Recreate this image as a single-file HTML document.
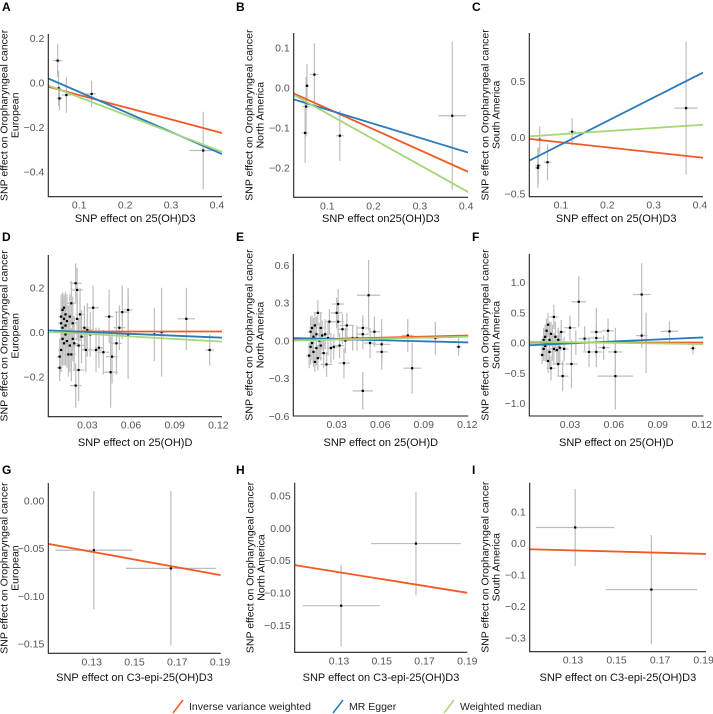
<!DOCTYPE html>
<html><head><meta charset="utf-8"><style>
html,body{margin:0;padding:0;background:#fff;}
svg{display:block;font-family:"Liberation Sans",Arial,sans-serif;}
</style></head><body>
<svg id="chart" width="713" height="714" viewBox="0 0 713 714"></svg>
<script>
// ---- data: points [x, y, xerr, yerr] ----
const ptsA=[[0.053,0.10,0.010,0.075],[0.055,-0.025,0.005,0.08],[0.057,-0.07,0.006,0.055],[0.072,-0.055,0.010,0.08],[0.127,-0.05,0.010,0.06],[0.370,-0.305,0.030,0.175]];
const ptsB=[[0.052,-0.113,0.007,0.075],[0.054,-0.047,0.008,0.075],[0.056,0.005,0.004,0.055],[0.072,0.033,0.009,0.078],[0.127,-0.12,0.008,0.063],[0.370,-0.07,0.030,0.185]];
const ptsC=[[0.050,-0.27,0.006,0.18],[0.051,-0.25,0.006,0.16],[0.054,-0.02,0.005,0.12],[0.071,-0.22,0.008,0.16],[0.124,0.05,0.008,0.12],[0.370,0.26,0.025,0.59]];
const ptsD=[[0.011,-0.16,0.002,0.06],[0.011,-0.11,0.002,0.08],[0.012,-0.08,0.002,0.1],[0.012,0.04,0.002,0.1],[0.012,0.07,0.002,0.1],[0.013,0.1,0.002,0.08],[0.013,0.02,0.002,0.12],[0.013,-0.03,0.002,0.12],[0.014,0.06,0.002,0.1],[0.014,0.11,0.002,0.06],[0.014,-0.05,0.002,0.1],[0.015,0.03,0.002,0.12],[0.015,0.08,0.002,0.1],[0.015,-0.01,0.002,0.14],[0.016,0.05,0.003,0.12],[0.016,-0.04,0.003,0.12],[0.017,0.0,0.003,0.12],[0.017,-0.1,0.003,0.1],[0.018,0.07,0.003,0.1],[0.018,-0.06,0.003,0.12],[0.019,0.13,0.003,0.1],[0.019,-0.1,0.003,0.12],[0.020,0.04,0.003,0.12],[0.020,-0.03,0.003,0.1],[0.021,-0.05,0.003,0.12],[0.022,0.22,0.004,0.09],[0.022,-0.24,0.004,0.1],[0.023,0.19,0.004,0.1],[0.023,0.06,0.003,0.1],[0.024,-0.06,0.004,0.12],[0.024,-0.17,0.004,0.14],[0.025,0.08,0.003,0.12],[0.026,-0.02,0.003,0.12],[0.028,0.02,0.003,0.1],[0.029,-0.08,0.003,0.1],[0.030,0.01,0.004,0.12],[0.032,-0.01,0.003,0.1],[0.034,0.11,0.004,0.1],[0.036,-0.08,0.004,0.1],[0.038,-0.07,0.003,0.09],[0.041,-0.09,0.004,0.1],[0.045,0.07,0.003,0.12],[0.046,-0.18,0.005,0.16],[0.047,-0.11,0.004,0.12],[0.050,-0.05,0.004,0.14],[0.052,0.02,0.004,0.1],[0.054,0.09,0.005,0.12],[0.058,0.1,0.003,0.1],[0.058,-0.01,0.008,0.2],[0.076,-0.01,0.004,0.12],[0.081,0.0,0.003,0.2],[0.098,0.06,0.006,0.14],[0.114,-0.08,0.003,0.07]];
const ptsE=[[0.011,-0.12,0.002,0.1],[0.012,0.07,0.002,0.12],[0.012,-0.05,0.002,0.14],[0.013,0.1,0.002,0.1],[0.013,-0.02,0.002,0.14],[0.014,0.03,0.002,0.15],[0.014,-0.09,0.002,0.12],[0.015,0.12,0.002,0.1],[0.015,-0.17,0.002,0.08],[0.016,0.05,0.003,0.14],[0.016,-0.06,0.003,0.14],[0.017,0.22,0.003,0.1],[0.017,-0.14,0.003,0.1],[0.018,0.0,0.003,0.14],[0.019,0.1,0.003,0.12],[0.019,-0.04,0.003,0.12],[0.020,0.04,0.003,0.12],[0.021,-0.1,0.003,0.12],[0.022,0.05,0.003,0.12],[0.023,-0.19,0.004,0.1],[0.024,0.02,0.004,0.14],[0.025,0.15,0.003,0.1],[0.026,-0.06,0.003,0.12],[0.028,-0.05,0.003,0.1],[0.030,0.22,0.004,0.12],[0.031,0.29,0.004,0.12],[0.031,0.15,0.004,0.12],[0.032,-0.04,0.003,0.1],[0.034,0.09,0.004,0.12],[0.035,-0.18,0.004,0.12],[0.036,0.0,0.004,0.1],[0.037,0.12,0.005,0.1],[0.041,0.02,0.004,0.1],[0.044,0.02,0.004,0.1],[0.048,0.1,0.004,0.1],[0.048,-0.4,0.007,0.15],[0.048,0.05,0.004,0.12],[0.052,0.36,0.008,0.28],[0.053,-0.02,0.004,0.12],[0.056,0.07,0.004,0.12],[0.061,-0.03,0.006,0.2],[0.061,-0.09,0.004,0.1],[0.079,0.04,0.004,0.13],[0.082,-0.22,0.006,0.2],[0.098,0.02,0.003,0.13],[0.114,-0.05,0.002,0.07]];
const ptsF=[[0.011,-0.2,0.002,0.15],[0.012,0.05,0.002,0.2],[0.012,-0.1,0.002,0.2],[0.013,0.1,0.002,0.2],[0.013,-0.05,0.002,0.25],[0.014,0.2,0.002,0.2],[0.014,0.0,0.002,0.3],[0.015,-0.3,0.002,0.2],[0.015,0.3,0.002,0.2],[0.016,0.05,0.003,0.3],[0.016,-0.15,0.003,0.25],[0.017,-0.42,0.003,0.2],[0.017,0.15,0.003,0.2],[0.018,0.0,0.003,0.3],[0.019,0.43,0.003,0.2],[0.019,-0.1,0.003,0.25],[0.020,0.1,0.003,0.25],[0.021,-0.12,0.003,0.25],[0.022,0.05,0.003,0.2],[0.022,-0.35,0.004,0.2],[0.023,-0.08,0.004,0.25],[0.024,0.18,0.003,0.2],[0.025,-0.55,0.004,0.25],[0.026,-0.1,0.003,0.2],[0.030,0.25,0.004,0.2],[0.031,-0.35,0.004,0.4],[0.034,0.0,0.004,0.2],[0.036,0.68,0.005,0.42],[0.040,0.07,0.004,0.2],[0.043,-0.15,0.004,0.25],[0.048,0.18,0.004,0.4],[0.048,-0.15,0.004,0.25],[0.048,0.08,0.004,0.2],[0.053,-0.08,0.004,0.2],[0.056,0.2,0.004,0.2],[0.061,-0.15,0.005,0.4],[0.061,-0.55,0.012,0.55],[0.079,0.8,0.006,0.52],[0.079,0.12,0.004,0.2],[0.082,0.0,0.003,0.5],[0.098,0.19,0.006,0.17],[0.114,-0.09,0.002,0.1]];
const ptsG=[[0.131,-0.052,0.018,0.062],[0.167,-0.071,0.021,0.081]];
const ptsH=[[0.131,-0.12,0.018,0.063],[0.166,-0.024,0.021,0.08]];
const ptsI=[[0.131,0.05,0.018,0.122],[0.166,-0.147,0.021,0.173]];
// ---- data: fitted lines [slope, intercept] for IVW, MR Egger, weighted median ----
const ivwA=[-0.55,0.0], eggerA=[-0.90,0.049], wmA=[-0.79,0.014];
const ivwB=[-0.52,0.0], eggerB=[-0.353,-0.0194], wmB=[-0.645,0.0];
const ivwC=[-0.446,0.001], eggerC=[2.083,-0.271], wmC=[0.275,0.001];
const ivwD=[0.0,0.003], eggerD=[-0.276,0.009], wmD=[-0.37,0.003];
const ivwE=[0.29,0.005], eggerE=[-0.29,0.02], wmE=[0.25,0.0];
const ivwF=[0.0,0.005], eggerF=[1.09,-0.042], wmF=[-0.33,0.02];
const ivwG=[-0.406,-0.0008];
const ivwH=[-0.53,0.0006];
const ivwI=[-0.185,0.0014];
// ---- tick values ----
const xt1=[0.1,0.2,0.3,0.4], xt2=[0.03,0.06,0.09,0.12], xt3=[0.13,0.15,0.17,0.19];
const ytA=[0.2,0,-0.2,-0.4], ytB=[0.1,0,-0.1,-0.2], ytC=[0.5,0,-0.5];
const ytD=[0.2,0,-0.2], ytE=[0.6,0.3,0,-0.3,-0.6], ytF=[1,0.5,0,-0.5,-1];
const ytG=[0,-0.05,-0.1,-0.15], ytH=[0.05,0,-0.05,-0.1,-0.15], ytI=[0.1,0,-0.1,-0.2,-0.3];

const NS='http://www.w3.org/2000/svg';
const svg=document.getElementById('chart');
function mk(tag,attrs,parent){const e=document.createElementNS(NS,tag);for(const k in attrs)e.setAttribute(k,attrs[k]);(parent||svg).appendChild(e);return e;}
const COL={ivw:'#f15a24',egger:'#2b7bba',wm:'#a5d67a'};
function fmt(v,d){const s=Math.abs(v).toFixed(d);return (v<0?'\u2212':'')+s;}

function panel(cfg){
  const g=mk('g',{});
  
  
  const [px0,py0,px1,py1]=cfg.box;
  const [xa,xb]=cfg.xd,[ya,yb]=cfg.yd;
  const sx=v=>px0+(v-xa)/(xb-xa)*(px1-px0);
  const sy=v=>py1-(v-ya)/(yb-ya)*(py1-py0);
  const cp='clip'+cfg.letter;
  const defs=mk('defs',{},g);const c=mk('clipPath',{id:cp},defs);mk('rect',{x:px0,y:py0,width:px1-px0,height:py1-py0},c);
  const pg=mk('g',{'clip-path':'url(#'+cp+')'},g);
  cfg.pts.forEach(p=>{
    const h=mk('line',{x1:sx(p[0]-p[2]),x2:sx(p[0]+p[2]),y1:sy(p[1]),y2:sy(p[1]),stroke:'#bdbdbd','stroke-width':1.2},pg);
    
    
    const v=mk('line',{x1:sx(p[0]),x2:sx(p[0]),y1:sy(p[1]-p[3]),y2:sy(p[1]+p[3]),stroke:'#bdbdbd','stroke-width':1.2},pg);
    
    
  });
  cfg.pts.forEach(p=>{
    const r=mk('rect',{x:sx(p[0])-1.1,y:sy(p[1])-1.1,width:2.2,height:2.2,fill:'#000'},pg);
    
    
  });
  cfg.lines.forEach(L=>{
    const [m,b]=L.v;
    const ln=mk('line',{x1:sx(xa),y1:sy(m*xa+b),x2:sx(xb),y2:sy(m*xb+b),stroke:COL[L.k],'stroke-width':1.8},pg);
    
    
  });
  const ax=mk('path',{d:`M${px0},${py0}V${py1}H${px1}`,fill:'none',stroke:'#222','stroke-width':1.1},g);
  
  
  cfg.xt.forEach(t=>{
    const tx=mk('text',{x:sx(t),y:py1+12,'font-size':10.5,fill:'#555','text-anchor':'middle'},g);
    tx.textContent=t.toFixed(cfg.xdec);
    
    
  });
  cfg.yt.forEach(t=>{
    const tx=mk('text',{x:px0-4,y:sy(t)+3.8,'font-size':10.5,fill:'#555','text-anchor':'end'},g);
    tx.textContent=fmt(t,cfg.ydec);
    
    
  });
  const xtl=mk('text',{x:(px0+px1)/2,y:cfg.xty,'font-size':11,fill:'#111','text-anchor':'middle'},g);
  xtl.textContent=cfg.xtitle;
  
  
  const cy=(py0+py1)/2, cx=px0-39;
  const yt=mk('text',{transform:`translate(${cx},${cy}) rotate(-90)`,'font-size':10.5,fill:'#111','text-anchor':'middle'},g);
  
  
  const s1=mk('tspan',{x:0,dy:-2},yt);s1.textContent='SNP effect on Oropharyngeal cancer';
  const s2=mk('tspan',{x:0,dy:11},yt);s2.textContent=cfg.region;
  const lab=mk('text',{x:cfg.lx,y:cfg.ly,'font-size':12,'font-weight':'bold',fill:'#000'},g);
  lab.textContent=cfg.letter;
  
  
}
const t1='SNP effect on 25(OH)D3', t2='SNP effect on 25(OH)D', t3='SNP effect on C3-epi-25(OH)D3';
const L3=(a,b,c)=>[{k:'ivw',v:a},{k:'egger',v:b},{k:'wm',v:c}];
panel({letter:'A',lx:2,ly:11,box:[48.3,34,222,196.7],xd:[0.0326,0.411],yd:[-0.513,0.22],pts:ptsA,lines:L3(ivwA,eggerA,wmA),xt:xt1,xdec:1,yt:ytA,ydec:1,xtitle:t1,xty:222,region:'European'});
panel({letter:'B',lx:236,ly:11,box:[293.7,33,468,197.3],xd:[0.0273,0.404],yd:[-0.274,0.137],pts:ptsB,lines:L3(ivwB,eggerB,wmB),xt:xt1,xdec:1,yt:ytB,ydec:1,xtitle:'SNP effect on25(OH)D3',xty:222,region:'North America'});
panel({letter:'C',lx:472,ly:11,box:[529.3,33,703,196.7],xd:[0.0316,0.4065],yd:[-0.526,0.927],pts:ptsC,lines:L3(ivwC,eggerC,wmC),xt:xt1,xdec:1,yt:ytC,ydec:1,xtitle:t1,xty:222,region:'South America'});
panel({letter:'D',lx:2,ly:241,box:[48.3,255,222,416.7],xd:[0.0032,0.1225],yd:[-0.38,0.347],pts:ptsD,lines:L3(ivwD,eggerD,wmD),xt:xt2,xdec:2,yt:ytD,ydec:1,xtitle:t2,xty:446,region:'European'});
panel({letter:'E',lx:236,ly:241,box:[293.3,254,468.3,416],xd:[0.0001,0.1207],yd:[-0.6,0.688],pts:ptsE,lines:L3(ivwE,eggerE,wmE),xt:xt2,xdec:2,yt:ytE,ydec:1,xtitle:t2,xty:446,region:'North America'});
panel({letter:'F',lx:472,ly:241,box:[529.3,254,703.3,416],xd:[0.0022,0.1211],yd:[-1.21,1.47],pts:ptsF,lines:L3(ivwF,eggerF,wmF),xt:xt2,xdec:2,yt:ytF,ydec:1,xtitle:t2,xty:446,region:'South America'});
panel({letter:'G',lx:2,ly:474,box:[48.3,483,220.7,653.3],xd:[0.1097,0.1903],yd:[-0.16,0.0185],pts:ptsG,lines:[{k:'ivw',v:ivwG}],xt:xt3,xdec:2,yt:ytG,ydec:2,xtitle:t3,xty:681,region:'European'});
panel({letter:'H',lx:236,ly:474,box:[294.7,482.7,467.3,652.3],xd:[0.1093,0.19],yd:[-0.192,0.070],pts:ptsH,lines:[{k:'ivw',v:ivwH}],xt:xt3,xdec:2,yt:ytH,ydec:2,xtitle:t3,xty:681,region:'North America'});
panel({letter:'I',lx:472,ly:474,box:[529.7,482.7,706,651.7],xd:[0.1101,0.1911],yd:[-0.344,0.192],pts:ptsI,lines:[{k:'ivw',v:ivwI}],xt:xt3,xdec:2,yt:ytI,ydec:1,xtitle:t3,xty:681,region:'South America'});

const leg=mk('g',{});


[['ivw','Inverse variance weighted',173],['egger','MR Egger',333],['wm','Weighted median',444]].forEach(e=>{
  const it=mk('g',{},leg);
  
  
  mk('line',{x1:e[2],y1:713,x2:e[2]+10,y2:700,stroke:COL[e[0]],'stroke-width':1.5},it);
  const t=mk('text',{x:e[2]+16,y:710,'font-size':10.5,fill:'#222'},it);
  t.textContent=e[1];
});
</script>
</body></html>
